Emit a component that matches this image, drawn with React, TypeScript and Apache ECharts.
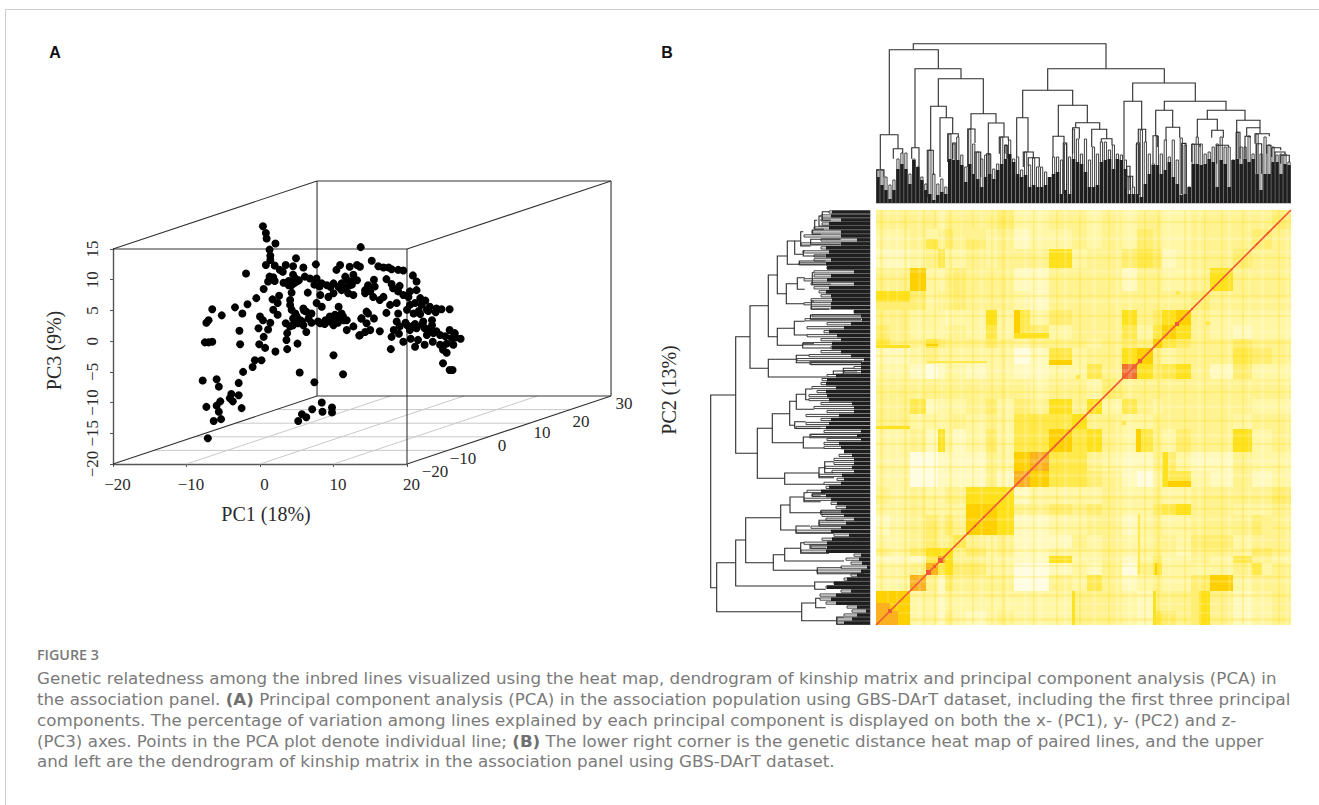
import React, { useEffect, useRef } from "react";
import * as echarts from "echarts";

// ---------- Panel A: PCA scatter (PC1, PC3 as projected on the front face of the 3D box) ----------
const pc1: number[] = [
  0.4,0.8,0.9,2.1,1.3,1.4,1.4,0.8,2.0,2.7,3.5,4.9,4.5,5.9,7.6,-1.9,1.8,1.3,1.1,2.0,0.5,3.1,4.5,4.8,3.9,5.0,4.3,6.1,6.8,7.7,8.4,9.1,10.0,11.1,11.8,10.9,10.4,12.2,13.2,13.6,12.7,11.6,12.9,12.2,12.0,12.7,11.1,10.0,9.3,8.2,6.5,4.3,-0.5,1.7,2.6,2.4,1.8,2.4,4.1,4.1,4.3,4.8,5.9,6.3,7.0,7.7,8.4,-3.4,-1.7,-2.4,-6.5,-5.2,-7.0,-7.3,0,0.4,1.4,-0.2,1.1,3.5,4.5,5.2,5.7,6.3,7.0,7.9,8.8,9.5,10.2,10.0,10.7,11.1,11.8,11.8,12.7,13.6,13.8,14.7,14.3,14.7,15.2,13.7,-2.8,3.7,3.6,0.5,-0.1,0.7,-2.7,5.1,3.7,2.1,-7.5,-7.0,-6.5,10.0,0.2,-0.7,-1.0,-2.3,5.4,11.3,7.4,-2.9,-5.9,-7.8,-5.6,-2.9,-3.9,-4.1,-3.7,-5.4,-5.9,-7.3,-2.5,-5.6,-5.3,-6.3,-7.1,8.4,9.8,7.1,8.5,9.8,5.7,6.3,5.2,8.2,9.5,10.4,11.3,5.0,4.5,4.1,5.9,
  16.1,16.8,17.5,17.9,18.8,19.5,20.8,21.3,17.2,17.9,19.0,18.1,18.8,19.5,20.4,21.3,20.2,21.8,22.5,22.0,23.1,24.0,24.7,25.8,21.1,20.4,18.6,17.7,17.2,18.8,20.0,20.9,21.8,22.7,23.4,22.2,21.1,20.0,18.6,19.0,20.4,21.3,22.4,23.4,22.7,23.6,24.5,25.8,26.5,27.3,26.1,25.4,24.5,24.9,25.4,26.3,23.5,22.4,21.5,21.1,20.5,19.5,18.9,18.2,17.9,17.8,16.3,15.0,14.3,13.5,14.5,15.5,13.8,14.5,15.0,14.3,15.5,15.6,16.3,16.8,15.4,24.9,25.8,26.2,
  5.0,5.5,6.6,8.9,9.9,10.6,11.4,12.2,3.2,3.9,4.6,5.3,7.4,8.1,9.6,10.7,11.7,12.5,13.2,6.0,21.6,22.9,23.9,19.8,20.7,22.1,23.0,24.0,25.2,26.6,
];
const pc3: number[] = [
  18.7,17.6,16.7,15.9,14.9,13.9,13.2,12.4,12.3,11.6,12.4,13.5,12.2,12.0,12.5,11.0,10.4,10.5,9.7,9.8,8.5,11.3,10.8,10.2,9.1,9.7,9.1,10.5,10.2,10.2,9.4,9.1,9.4,9.4,10.0,12.4,11.6,12.1,12.4,12.1,10.8,10.5,10.0,9.1,7.8,7.5,8.3,7.8,7.2,7.5,7.9,7.9,7.0,6.8,7.4,6.2,5.1,4.3,6.7,5.9,5.1,4.5,5.3,4.8,4.5,6.2,5.6,5.5,6.0,4.5,5.2,4.2,3.4,3.0,4.0,3.4,3.0,2.1,1.9,2.9,2.6,2.9,3.2,1.5,3.0,3.2,2.8,4.0,4.3,2.6,5.6,4.5,3.4,1.8,2.4,1.0,3.7,4.5,7.8,9.1,13.1,15.3,1.7,1.3,0.2,0.7,-0.5,-1.1,-0.5,-0.4,-1.3,-1.7,-0.2,-0.2,-0.1,-2.3,-3.1,-3.1,-4.2,-5.0,-5.1,-5.4,-6.7,-6.8,-6.2,-6.4,-7.4,-8.8,-8.6,-9.3,-9.8,-9.8,-10.5,-10.7,-10.9,-11.5,-12.7,-13.0,-15.8,-10.0,-10.8,-11.1,-11.5,-11.6,-11.9,-12.4,-13.0,2.9,3.2,3.7,4.0,4.0,3.7,2.4,2.6,
  12.2,12.0,12.0,11.7,11.6,11.5,10.7,9.7,10.1,9.3,9.0,8.6,8.1,7.5,8.1,8.3,7.2,7.0,6.6,5.9,5.6,5.3,5.2,5.2,6.2,5.9,6.2,5.9,4.6,4.5,5.1,4.5,4.4,5.1,3.4,3.2,2.8,2.6,3.2,2.4,1.8,2.1,2.1,2.6,1.0,1.3,1.0,1.8,1.3,0.4,0.5,-0.4,-0.6,-1.4,-1.9,-0.6,-0.1,-0.6,0.2,-0.9,0.4,-0.1,1.2,1.8,0.7,-1.3,1.6,1.8,1.5,0.9,2.9,3.7,3.7,4.8,8.1,8.3,10.0,8.9,6.7,7.2,7.2,-3.6,-4.7,-4.7,
  3.3,3.4,3.7,3.4,3.0,3.0,3.4,9.7,9.5,9.8,9.4,9.9,9.2,8.9,8.8,8.8,8.7,9.2,9.9,5.0,4.9,4.9,4.7,3.0,2.4,2.7,2.0,1.6,0.8,0.6,
];
const pc2Ticks = [-20, -10, 0, 10, 20, 30];

// ---------- Panel B: kinship matrix, cluster bands along the line order ----------
const bandEdges = [0,14,34,50,62,69,77,90,110,121,138,154,173,196,211,226,246,261,277,286,300,315,334,357,376,396,415];
// lower triangle of the symmetric kinship matrix, one string per band (levels 0-9)
const kinshipRows = [
  "8",
  "77",
  "228",
  "2238",
  "11158",
  "324666",
  "2234335",
  "12343437",
  "223222277",
  "3232233666",
  "22001111318",
  "220011113278",
  "2231621242557",
  "33222232325556",
  "335122234243636",
  "3333333333323324",
  "22101221221122539",
  "112322222201523367",
  "5335433343233323437",
  "43222232525423335257",
  "332221226252433363467",
  "6642334333213333333334",
  "33722343331133331332236",
  "112352232333623345412334",
  "2235343423122323243223334",
  "33332333342233232332233334",
];
const kinshipPalette = ["#fffcdf","#fff9bd","#fff6a6","#fff391","#ffee72","#ffe94c","#ffe21f","#ffd000","#fbb020","#f07030"];
// narrower sub-cluster patches [rank a, rank b, rank c, rank d, level]; drawn on both sides of the diagonal
const kinshipPatches: number[][] = [
  [0,34,277,280,6],[50,62,279,281,7],[51,111,262,264,5],[173,196,260,265,7],[138,144,287,315,7],[138,173,287,292,6],
  [0,34,315,323,4],[50,62,386,396,2],[90,110,386,396,3],[0,34,196,199,6],[0,14,5,22,8],[246,250,200,204,5],[330,334,300,304,5],
];
// lines whose relatedness to all others runs slightly high (+1) or low (-1): [rank, width, sign]
const lineStreaks: number[][] = [
  [4,3,1],[11,2,-1],[20,2,-1],[28,3,1],[42,3,-1],[47,2,1],[58,2,1],[65,2,-1],[73,3,1],[84,2,-1],[96,2,1],[104,3,-1],[115,2,1],[126,3,1],[131,2,-1],[148,3,-1],[157,2,1],[162,4,-1],[180,2,1],[188,3,-1],[203,2,1],[217,3,-1],[232,2,1],[240,3,-1],[252,4,-1],[268,2,1],[281,3,1],[292,2,-1],[308,2,1],[322,3,-1],[328,2,1],[345,2,1],[352,3,-1],[366,2,1],[372,2,-1],[385,3,-1],[402,2,1],[410,3,-1],
];
const diagonalClusters = [[12,16],[50,55],[57,60],[62,67],[91,93],[98,100],[107,109],[141,143],[193,195],[213,215],[262,266],[299,303],[305,307],[315,317],[336,338],[380,382],[391,393]];

// ---------- Dendrogram shared by both margins: [rank left, rank right, merge height, left child, right child] ----------
const merges: number[][] = [
  [37.3,230,159.3,153.3,134.3],[13.3,62.3,153.3,68.7,134.3],[39,85,134.3,55.3,124.3],[62.3,107.3,124.3,96.7,89.3],[54.7,70.3,96.7,52.7,85.3],[64,76.7,85.3,26,69.3],[71.7,82.3,69.3,41,66],[95,120,89.3,74,80],[91.7,99,74,36,60],[112.3,128,80,47.7,66],[123.3,132.3,66,49.3,62.7],
  [171.7,288.3,134.3,112.7,120],[146.7,196.7,112.7,85.3,97.7],[140.7,152,85.3,46,51],[182.3,211.3,97.7,66.7,80.3],[177,188,66.7,46,60],[199.7,223.7,80.3,75.3,73.7],[196.7,203.3,75.3,49.3,64.3],[215.7,230.7,73.7,56,64.3],[225.3,236,64.3,61,57.7],
  [256.7,319.3,120,101.7,101.7],[248,265.7,101.7,43.3,73.7],[262.3,269.7,73.7,60,61],[288.3,350,101.7,92.7,92.7],[279.7,296.7,92.7,67.3,75.7],[290,303.7,75.7,62.7,65.3],[331.3,369,92.7,83.7,82.7],[321.3,341.3,83.7,66,72.7],[335.7,347.3,72.7,65.3,65.3],[360.7,384,82.7,70.7,75.3],[370.7,384,75.3,66.7,69.3],[379,393.3,69.3,59.3,66.7],[390.7,395,57.7,49.3,56],[395.7,404.7,55.3,46,52.7],[399,409,51,41,48.7],[404.7,413.3,47.7,39.3,41],
  [4.3,22,68.3,33.3,54.3],[17.3,26.7,54.3,44.3,50],[35.7,43,55.3,44.3,36],[51.3,57.3,52.7,6,28],[0.7,8,33.3,26,26],[147.3,157.3,51,36,45.3],[152.3,163.3,45.3,36.7,36],[249,256.7,26.7,16,16],[250.7,254,36.7,12.7,12.7],[277,281.3,67.3,39,56],[315.7,324,58.7,41,56],[340.7,352.3,57.7,39.3,56],[360.7,364,70.7,44.3,44.3],[369,374,66.7,44.3,65.3],[380.7,385.7,59.3,29.3,29.3],[305.7,310,59.6,9,9],[260.7,263.3,60,9,8],[76.7,80,60,44,43],[99,104.7,51,29,26],[110.7,114,49.3,26,29],[129,131.3,57.7,49.3,44.3],[187.3,190.7,60,9,13],
];
// height of the dense leaf branches, left to right along the line order
const leafHeights = [26,18,13,4,13,34,39,34,19,43,36,23,13,9,3,8,11,9,44,43,43,38,21,39,29,24,16,26,29,24,33,39,44,49,41,29,26,28,16,18,16,16,18,26,29,31,9,13,9,44,41,39,31,16,16,18,41,43,44,34,44,43,34,9,9,9,6,19,29,38,38,29,33,41,26,19,8,9,16,39,39,38,39,44,41,16,43,39,16,43,44,39,44,41,44,29,13,29,29,41,41,29,39,38];
// height of the small merges that sit just above the dense part
const leafCanopy = [33,33,26,18,23,44,50,50,29,44,36,26,19,53,29,19,24,16,69,59,66,48,36,74,59,51,44,48,49,34,39,66,58,63,44,46,33,51,38,45,36,36,31,23,46,46,43,59,46,74,64,49,64,43,56,49,61,61,53,58,49,48,43,26,16,59,73,61,49,39,67,49,63,46,63,43,65,58,16,59,66,59,49,51,56,59,66,56,56,43,71,56,56,67,49,69,49,66,58,56,48,49,49,41];
const leafNames = leafHeights.map((_, i) => "L" + (i + 1));

// ---------- Box of the 3D plot, in front-face units: depth shifts by (27.76, 11.07) ----------
const DX = 27.76, DZ = 11.07;
const depthFractions = [0.2, 0.4, 0.6, 0.8];
const boxDark: number[][] = [
  [-20,15,20,15],[20,-20,20,15],
  [-20+DX,-20+DZ,-20+DX,15+DZ],[20+DX,-20+DZ,20+DX,15+DZ],[-20+DX,15+DZ,20+DX,15+DZ],[-20+DX,-20+DZ,20+DX,-20+DZ],
  [-20,-20,-20+DX,-20+DZ],[-20,15,-20+DX,15+DZ],[20,15,20+DX,15+DZ],[20,-20,20+DX,-20+DZ],
];
const boxFloor: number[][] = [
  ...depthFractions.map((f) => [-20+DX*f,-20+DZ*f,20+DX*f,-20+DZ*f]),
  ...[-10,0,10].map((x) => [x,-20,x+DX,-20+DZ]),
];

const SERIF = "'Liberation Serif', serif";
const CAPTION = "'DejaVu Sans', sans-serif";
const minus = (v: number) => (v < 0 ? "\u2212" + -v : String(v));

const captionLines = [
  "Genetic relatedness among the inbred lines visualized using the heat map, dendrogram of kinship matrix and principal component analysis (PCA) in",
  "the association panel. {b|(A)} Principal component analysis (PCA) in the association population using GBS-DArT dataset, including the first three principal",
  "components. The percentage of variation among lines explained by each principal component is displayed on both the x- (PC1), y- (PC2) and z-",
  "(PC3) axes. Points in the PCA plot denote individual line; {b|(B)} The lower right corner is the genetic distance heat map of paired lines, and the upper",
  "and left are the dendrogram of kinship matrix in the association panel using GBS-DArT dataset.",
];
const captionY = [678, 699, 720, 741, 761];
const depthLabelPos = [[435,471],[463,458],[502,445],[542,432],[581,421],[624,403]];

function segSeries(data: number[][], color: string, width: number) {
  return {
    type: "custom", coordinateSystem: "cartesian2d", xAxisIndex: 0, yAxisIndex: 0, silent: true, z: 1,
    data,
    renderItem: (_: any, api: any) => {
      const a = api.coord([api.value(0), api.value(1)]);
      const b = api.coord([api.value(2), api.value(3)]);
      return { type: "line", shape: { x1: a[0], y1: a[1], x2: b[0], y2: b[1] }, style: { stroke: color, lineWidth: width } };
    },
  };
}

function forkSeries(data: number[][], xi: number, yi: number, swap: boolean, stroke: string, lineWidth: number, z: number) {
  return {
    type: "custom", coordinateSystem: "cartesian2d", xAxisIndex: xi, yAxisIndex: yi, silent: true, z,
    data,
    renderItem: (_: any, api: any) => {
      const p = (r: number, h: number) => api.coord(swap ? [h, r] : [r, h]);
      const l = api.value(0), r = api.value(1), t = api.value(2), hl = api.value(3), hr = api.value(4);
      return {
        type: "polyline",
        shape: { points: [p(l, hl), p(l, t), p(r, t), p(r, hr)] },
        style: { stroke, lineWidth, fill: "none" },
      };
    },
  };
}

function rectItem(api: any, x0: number, x1: number, y0: number, y1: number, fill: string) {
  const a = api.coord([x0, y1]);
  const b = api.coord([x1, y0]);
  return { type: "rect", shape: { x: a[0], y: a[1], width: b[0] - a[0], height: b[1] - a[1] }, style: { fill } };
}

function heatSeries(data: number[][], z: number, draw: (api: any) => any) {
  return {
    type: "custom", coordinateSystem: "cartesian2d", xAxisIndex: 4, yAxisIndex: 4, silent: true, z,
    data,
    renderItem: (_: any, api: any) => draw(api),
  };
}

export default function App() {
  const ref = useRef<HTMLDivElement>(null);
  useEffect(() => {
    const chart = echarts.init(ref.current!, undefined, { renderer: "svg" });
    const cells: number[][] = [];
    kinshipRows.forEach((row, j) => {
      row.split("").forEach((c, i) => {
        cells.push([i, j, +c]);
        if (i !== j) cells.push([j, i, +c]);
      });
    });
    const patches: number[][] = [];
    kinshipPatches.forEach(([a, b, c, d, l]) => {
      patches.push([a, b, c, d, l], [c, d, a, b, l]);
    });
    const step = 415 / leafHeights.length;
    const leafForks = leafHeights.map((h, i) => {
      const c = (i + 0.5) * step;
      return [c - 1.1, c + 1.1, leafCanopy[i], h, h];
    });
    const hiddenAxis = { show: false, axisLine: { show: false }, axisTick: { show: false }, axisLabel: { show: false }, splitLine: { show: false } };
    const rank = { type: "value", min: 0, max: 415, ...hiddenAxis };
    const height = { type: "value", min: 0, max: 160, ...hiddenAxis };
    const serifLabel = { fontFamily: SERIF, fontSize: 17, color: "#2a2a2a" };
    const text = (t: string, x: number, y: number, style: any, rotation = 0) => ({
      type: "text", x, y, rotation, silent: true,
      style: { text: t, textAlign: "center", textVerticalAlign: "middle", ...style },
    });
    const caption = captionLines.map((l, i) => ({
      type: "text", x: 37, y: captionY[i], silent: true,
      style: {
        text: l, fontFamily: CAPTION, fontSize: 16.7, fill: "#7a7a7a", textVerticalAlign: "middle",
        rich: { b: { fontFamily: CAPTION, fontSize: 16.7, fontWeight: "bold", fill: "#6f6f6f" } },
      },
    }));
    chart.setOption({
      animation: false,
      backgroundColor: "#ffffff",
      grid: [
        { left: 113, top: 249, width: 294, height: 215 },
        { left: 876, top: 43, width: 415, height: 160 },
        { left: 710, top: 210, width: 160, height: 415 },
        { left: 876, top: 210, width: 415, height: 415 },
      ],
      xAxis: [
        {
          gridIndex: 0, type: "value", min: -20, max: 20, interval: 10,
          axisLine: { onZero: false, lineStyle: { color: "#555", width: 1.4 } },
          axisTick: { length: 3, lineStyle: { color: "#555" } }, splitLine: { show: false },
          axisLabel: { ...serifLabel, margin: 12, padding: [0, 0, 0, 9], formatter: minus, showMinLabel: true, showMaxLabel: true, hideOverlap: false },
          name: "PC1 (18%)", nameLocation: "middle", nameGap: 40,
          nameTextStyle: { fontFamily: SERIF, fontSize: 20, color: "#2a2a2a", padding: [0, 0, 0, 12] },
        },
        { gridIndex: 1, ...rank },
        { gridIndex: 1, type: "category", data: leafNames, ...hiddenAxis },
        { gridIndex: 2, type: "value", min: 0, max: 160, inverse: true, ...hiddenAxis },
        { gridIndex: 3, ...rank },
      ],
      yAxis: [
        {
          gridIndex: 0, type: "value", min: -20, max: 15, interval: 5,
          axisLine: { onZero: false, lineStyle: { color: "#555", width: 1.4 } },
          axisTick: { length: 3, lineStyle: { color: "#555" } }, splitLine: { show: false },
          axisLabel: { ...serifLabel, rotate: 90, margin: 12, formatter: minus, showMinLabel: true, showMaxLabel: true, hideOverlap: false },
          name: "PC3 (9%)", nameLocation: "middle", nameGap: 49,
          nameTextStyle: { fontFamily: SERIF, fontSize: 20, color: "#2a2a2a", padding: [0, 0, 0, 12] },
        },
        { gridIndex: 1, ...height },
        { gridIndex: 2, ...rank },
        { gridIndex: 2, type: "category", data: leafNames, ...hiddenAxis },
        { gridIndex: 3, ...rank },
      ],
      series: [
        segSeries(boxFloor, "#c9c9c9", 1),
        segSeries(boxDark, "#333333", 1.1),
        {
          type: "scatter", xAxisIndex: 0, yAxisIndex: 0, clip: false, z: 4, silent: true,
          symbolSize: 8, itemStyle: { color: "#000", opacity: 1 },
          data: pc1.map((x, i) => [x, pc3[i]]),
        },
        {
          type: "bar", xAxisIndex: 2, yAxisIndex: 1, barWidth: 3.7, silent: true, z: 2,
          itemStyle: { color: "#1f1f1f" }, data: leafHeights,
        },
        forkSeries(leafForks, 1, 1, false, "#444444", 1, 2),
        forkSeries(merges, 1, 1, false, "#2b2b2b", 1.1, 3),
        {
          type: "bar", xAxisIndex: 3, yAxisIndex: 3, barWidth: 3.7, silent: true, z: 2,
          itemStyle: { color: "#1f1f1f" }, data: leafHeights,
        },
        forkSeries(leafForks, 3, 2, true, "#444444", 1, 2),
        forkSeries(merges, 3, 2, true, "#2b2b2b", 1.1, 3),
        heatSeries(cells, 2, (api) => {
          const i = api.value(0), j = api.value(1);
          return rectItem(api, bandEdges[i], bandEdges[i + 1], bandEdges[j], bandEdges[j + 1], kinshipPalette[api.value(2)]);
        }),
        heatSeries(lineStreaks, 3, (api) => {
          const r = api.value(0), w = api.value(1);
          const fill = api.value(2) > 0 ? "rgba(255,214,0,0.2)" : "rgba(255,255,255,0.16)";
          return {
            type: "group",
            children: [rectItem(api, r, r + w, 0, 415, fill), rectItem(api, 0, 415, r, r + w, fill)],
          };
        }),
        heatSeries(patches, 4, (api) => rectItem(api, api.value(0), api.value(1), api.value(2), api.value(3), kinshipPalette[api.value(4)])),
        {
          type: "line", xAxisIndex: 4, yAxisIndex: 4, silent: true, z: 5, symbol: "none",
          lineStyle: { color: "#f0563a", width: 1.6 }, data: [[0, 0], [415, 415]],
        },
        heatSeries(diagonalClusters, 6, (api) => rectItem(api, api.value(0), api.value(1), api.value(0), api.value(1), "#ee5a35")),
      ],
      graphic: [
        { type: "line", silent: true, shape: { x1: 6, y1: 9.5, x2: 1319, y2: 9.5 }, style: { stroke: "#cfcfcf", lineWidth: 1 } },
        { type: "line", silent: true, shape: { x1: 5.5, y1: 9, x2: 5.5, y2: 805 }, style: { stroke: "#cfcfcf", lineWidth: 1 } },
        { type: "line", silent: true, shape: { x1: 876, y1: 203.5, x2: 1291, y2: 203.5 }, style: { stroke: "#c4c4c4", lineWidth: 1 } },
        { type: "line", silent: true, shape: { x1: 870.5, y1: 210, x2: 870.5, y2: 625 }, style: { stroke: "#c4c4c4", lineWidth: 1 } },
        text("A", 55, 52, { fontFamily: "'Liberation Sans', sans-serif", fontWeight: "bold", fontSize: 16, fill: "#111" }),
        text("B", 667, 52, { fontFamily: "'Liberation Sans', sans-serif", fontWeight: "bold", fontSize: 16, fill: "#111" }),
        text("PC2 (13%)", 669, 390, { fontFamily: SERIF, fontSize: 20, fill: "#2a2a2a" }, Math.PI / 2),
        ...pc2Ticks.map((v, i) => text(minus(v), depthLabelPos[i][0], depthLabelPos[i][1], { fontFamily: SERIF, fontSize: 17, fill: "#2a2a2a" })),
        { type: "text", x: 37, y: 654, silent: true, style: { text: "FIGURE 3", fontFamily: "'Open Sans', sans-serif", fontWeight: 600, fontSize: 14.3, fill: "#7a7a7a", textVerticalAlign: "middle" } },
        ...caption,
      ],
    });
    return () => chart.dispose();
  }, []);
  return <div ref={ref} style={{ position: "absolute", left: 0, top: 0, width: 1319, height: 805 }} />;
}
